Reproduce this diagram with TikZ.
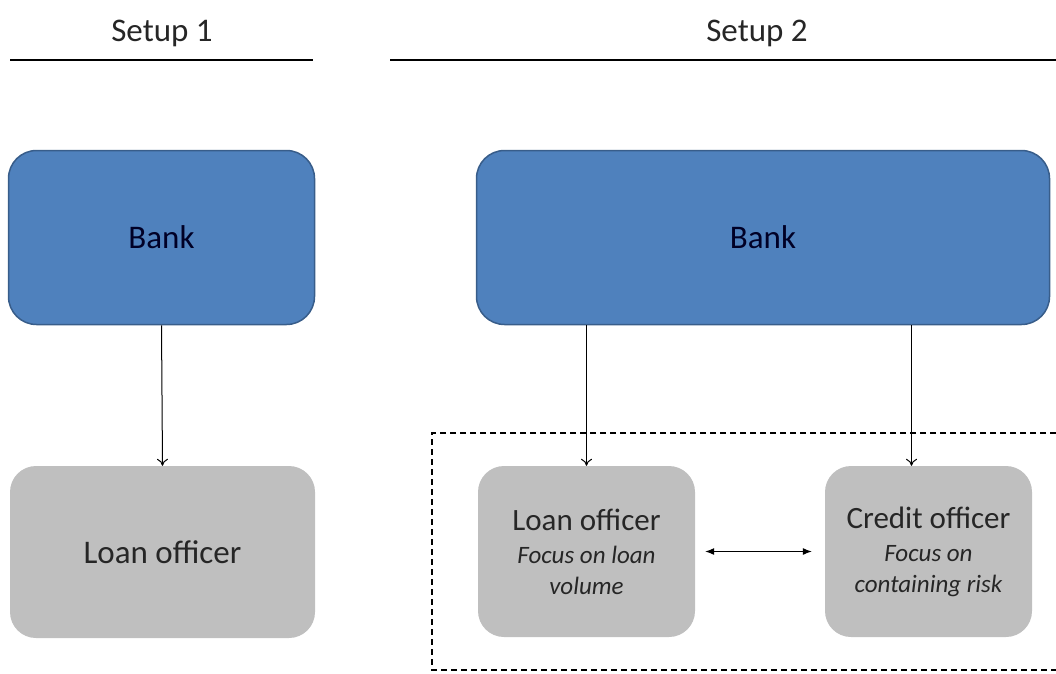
\documentclass[tikz,border=0pt]{standalone}
\usepackage{fontspec}
\setmainfont{Carlito}
\usepackage{tikz}
\usetikzlibrary{arrows,arrows.meta,calc,positioning}
\definecolor{bankblue}{HTML}{4F81BD}
\definecolor{bankedge}{HTML}{385D8A}
\definecolor{officergray}{HTML}{BFBFBF}
\tikzset{%
	bankbox/.style   = {draw=bankedge, line width=1.5pt, fill=bankblue, rectangle, rounded corners=28pt, text centered, text=black!85!blue, font=\fontsize{33}{38}\selectfont},
	officer/.style   = {fill=officergray, rectangle, rounded corners=26pt, align=center, text=black!85, font=\fontsize{33}{38}\selectfont},
	arrow/.style     = {line width=1pt, -{To[length=7pt,width=11pt]}},
	dblarrow/.style  = {line width=1pt, {Latex[length=9pt,width=7pt]}-{Latex[length=9pt,width=7pt]}},
	header/.style    = {text=black!85, font=\fontsize{33}{38}\selectfont},
}
\newcommand{\focus}[1]{{\fontsize{25}{30}\selectfont\itshape #1}}
\begin{document}
\begin{tikzpicture}[x=1pt,y=-1pt]
	\useasboundingbox (0,0) rectangle (1056,673);
	
	% headers
	\node[header] (setupA) at (162,33) {Setup 1};
	\node[header] (setupB) at (757,33) {Setup 2};
	\draw[line width=1.4pt] (10,60) coordinate (ruleAl) -- (313,60) coordinate (ruleAr);
	\draw[line width=1.4pt] (390,60) coordinate (ruleBl) -- (1056,60) coordinate (ruleBr);
	
	% setup 1
	\node[bankbox, minimum width=306pt, minimum height=174pt] (bankA) at (161.5,237.5) {Bank};
	\node[officer, minimum width=305pt, minimum height=172pt] (loanA) at (162.5,552) {Loan officer};
	\draw[arrow] (bankA.south) -- (loanA.north);
	
	% setup 2
	\node[bankbox, minimum width=573pt, minimum height=174pt] (bankB) at (763,237.5) {Bank};
	\draw[dashed, line width=1.3pt, dash pattern=on 6pt off 4pt] (1056,433) -- (432,433) -- (432,670) -- (1056,670);
	\node[officer, minimum width=217pt, minimum height=171pt] (loanB) at (586.5,551.5)
		{\fontsize{31}{34}\selectfont Loan officer\\[-5pt] \focus{Focus on loan}\\[-7pt] \focus{volume}};
	\node[officer, minimum width=207pt, minimum height=171pt] (credit) at (928.5,551.5)
		{\fontsize{31}{34}\selectfont Credit officer\\[-5pt] \focus{Focus on}\\[-7pt] \focus{containing risk}};
	\coordinate (creditIn) at ([xshift=-17pt]credit.north);
	\draw[arrow] (bankB.south -| loanB.north) -- (loanB.north);
	\draw[arrow] (bankB.south -| creditIn) -- (creditIn);
	\draw[dblarrow, shorten <=10pt, shorten >=13pt] (loanB.east) -- (credit.west);
	
\end{tikzpicture}
\end{document}
